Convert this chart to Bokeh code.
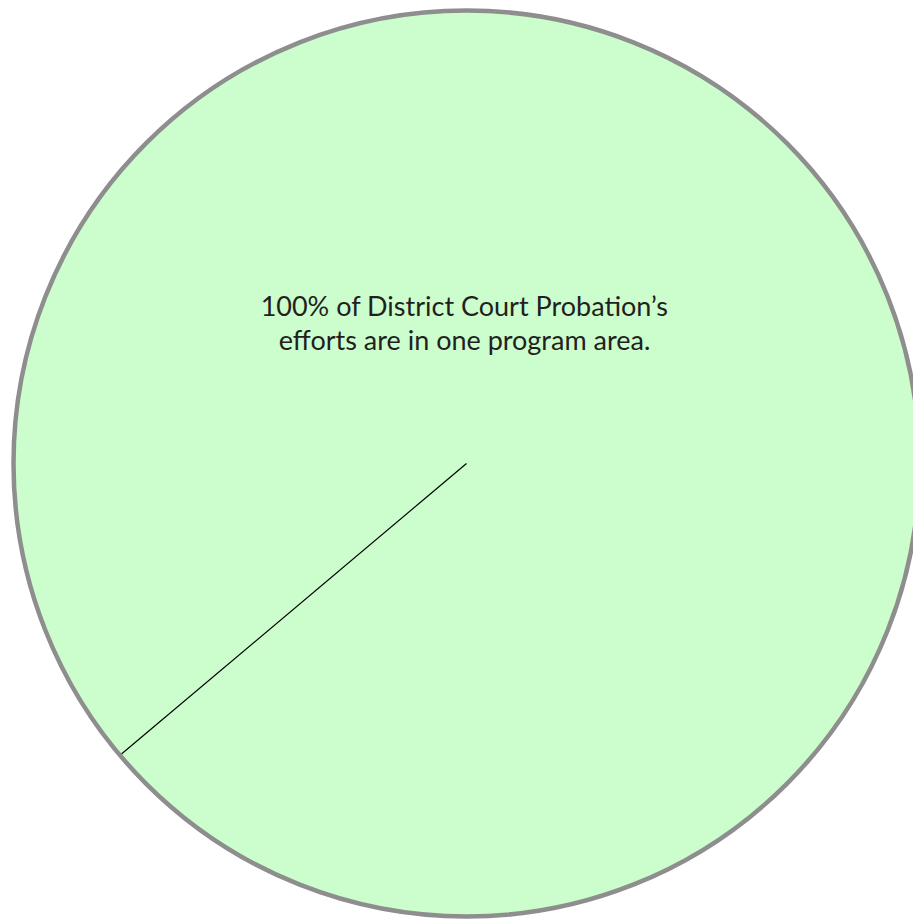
import math
from bokeh.plotting import figure
from bokeh.models import Range1d
from bokeh.core.properties import value
from bokeh.embed import file_html
from bokeh.resources import INLINE

# Data
categories = ["District Court Probation"]
shares = [100.0]
label_lines = ["100% of District Court Probation\u2019s", "efforts are in one program area."]

W, H = 913, 919
p = figure(width=W, height=H, output_backend="svg", toolbar_location=None,
           x_range=Range1d(0, W), y_range=Range1d(0, H), min_border=0)
p.axis.visible = False
p.grid.visible = False
p.outline_line_color = None
p.background_fill_color = "white"
p.border_fill_color = "white"

cx, cy, r = 466, H - 463, 453
start = math.radians(220.1)
total = sum(shares)
angles = []
a = start
for s in shares:
    a2 = a + 2 * math.pi * s / total
    angles.append((a, a2))
    a = a2

for (a1, a2) in angles:
    p.wedge(x=[cx], y=[cy], radius=r, start_angle=a1, end_angle=a2,
            fill_color="#ccfdcc", line_color=None)
    p.segment(x0=[cx], y0=[cy], x1=[cx + r * math.cos(a1)], y1=[cy + r * math.sin(a1)],
              line_color="black", line_width=1.2)

p.circle(x=[cx], y=[cy], radius=r, fill_color=None, line_color="#8e8e8e", line_width=4.5)

p.text(x=[464, 464], y=[H - 305, H - 339], text=label_lines,
       text_align="center", text_baseline="middle",
       text_font=value("Lato"), text_font_size="27px", text_color="#231f20")

open("out.html", "w").write(file_html(p, INLINE))
